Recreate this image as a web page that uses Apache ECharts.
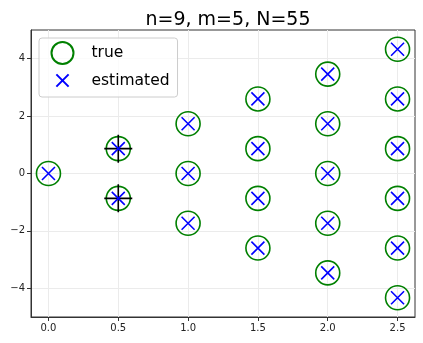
<!DOCTYPE html>
<html>
<head>
<meta charset="utf-8">
<script src="https://cdn.jsdelivr.net/npm/echarts@6/dist/echarts.min.js"></script>
<style>
  html, body { margin: 0; padding: 0; background: #fff; }
  #chart { width: 423px; height: 343px; }
</style>
</head>
<body>
<div id="chart"></div>
<script>
// true positions (hex lattice) and the estimated ones
const trueX = [0, 0.5, 0.5, 1, 1, 1, 1.5, 1.5, 1.5, 1.5, 2, 2, 2, 2, 2, 2.5, 2.5, 2.5, 2.5, 2.5, 2.5]
const trueY = [0, 0.866, -0.866, -1.732, 0, 1.732, -2.598, -0.866, 0.866, 2.598,
  -3.464, -1.732, 0, 1.732, 3.464, -4.330, -2.598, -0.866, 0.866, 2.598, 4.330]
const estX = [0, 0.5, 0.5, 1, 1, 1, 1.5, 1.5, 1.5, 1.5, 2, 2, 2, 2, 2, 2.5, 2.5, 2.5, 2.5, 2.5, 2.5]
const estY = [0, 0.866, -0.866, -1.732, 0, 1.732, -2.598, -0.866, 0.866, 2.598,
  -3.464, -1.732, 0, 1.732, 3.464, -4.330, -2.598, -0.866, 0.866, 2.598, 4.330]
// black crosses
const markX = [0.5, 0.5]
const markY = [0.866, -0.866]

const xTicks = [0, 0.5, 1, 1.5, 2, 2.5]
const yTicks = [-4, -2, 0, 2, 4]

const zip = (a, b) => a.map((v, i) => [v, b[i]])
const font = 'DejaVu Sans'
const xPath = 'path://M0,0L10,10M10,0L0,10'
// same cross but with empty margin so the legend icon stays small
const xLegendPath = 'path://M-4,-4M0,0L10,10M10,0L0,10M14,14'
const plusPath = 'path://M5,0L5,10M0,5L10,5'

const chart = echarts.init(document.getElementById('chart'))
chart.setOption({
  animation: false,
  title: {
    text: 'n=9, m=5, N=55',
    left: 223,
    textAlign: 'center',
    top: 6,
    textStyle: { fontFamily: font, fontSize: 19, fontWeight: 'normal', color: '#000' }
  },
  legend: {
    data: ['true', { name: 'estimated', icon: xLegendPath }],
    orient: 'vertical',
    left: 39,
    top: 38,
    padding: [3, 8, 3, 10],
    itemWidth: 24,
    itemHeight: 22,
    itemGap: 2,
    borderColor: '#cccccc',
    borderWidth: 1,
    borderRadius: 3,
    backgroundColor: 'rgba(255,255,255,0.8)',
    textStyle: { fontFamily: font, fontSize: 15.5, color: '#000', padding: [0, 0, 0, 12] }
  },
  grid: {
    left: 31, right: 8, top: 30, bottom: 26,
    show: true, borderColor: '#333', borderWidth: 1
  },
  xAxis: {
    type: 'value',
    min: -0.125,
    max: 2.625,
    axisLine: { show: true, onZero: false, lineStyle: { color: '#333' } },
    axisTick: { show: true, length: 4, customValues: xTicks, lineStyle: { color: '#333' } },
    axisLabel: {
      customValues: xTicks,
      formatter: v => v.toFixed(1),
      fontFamily: font, fontSize: 10, color: '#222', margin: 6
    },
    splitLine: { show: true, lineStyle: { color: '#ebebeb', width: 1 } }
  },
  yAxis: {
    type: 'value',
    min: -5,
    max: 5,
    axisLine: { show: true, onZero: false, lineStyle: { color: '#333' } },
    axisTick: { show: true, length: 4, customValues: yTicks, lineStyle: { color: '#333' } },
    axisLabel: {
      customValues: yTicks,
      formatter: v => String(v).replace('-', '\u2212'),
      fontFamily: font, fontSize: 10, color: '#222', margin: 6
    },
    splitLine: { show: true, lineStyle: { color: '#ebebeb', width: 1 } }
  },
  series: [
    {
      name: 'true',
      type: 'scatter',
      symbol: 'circle',
      symbolSize: 24,
      z: 2,
      itemStyle: { color: 'rgba(0,0,0,0)', borderColor: '#008000', borderWidth: 1.6, opacity: 1 },
      data: zip(trueX, trueY)
    },
    {
      name: 'mark',
      type: 'scatter',
      symbol: plusPath,
      symbolSize: 28,
      z: 3,
      itemStyle: { color: 'none', borderColor: '#000', borderWidth: 1.6, opacity: 1 },
      data: zip(markX, markY)
    },
    {
      name: 'estimated',
      type: 'scatter',
      symbol: xPath,
      symbolSize: 13,
      z: 4,
      itemStyle: { color: 'none', borderColor: '#0000ff', borderWidth: 1.6, opacity: 1 },
      data: zip(estX, estY)
    }
  ]
})
</script>
</body>
</html>
